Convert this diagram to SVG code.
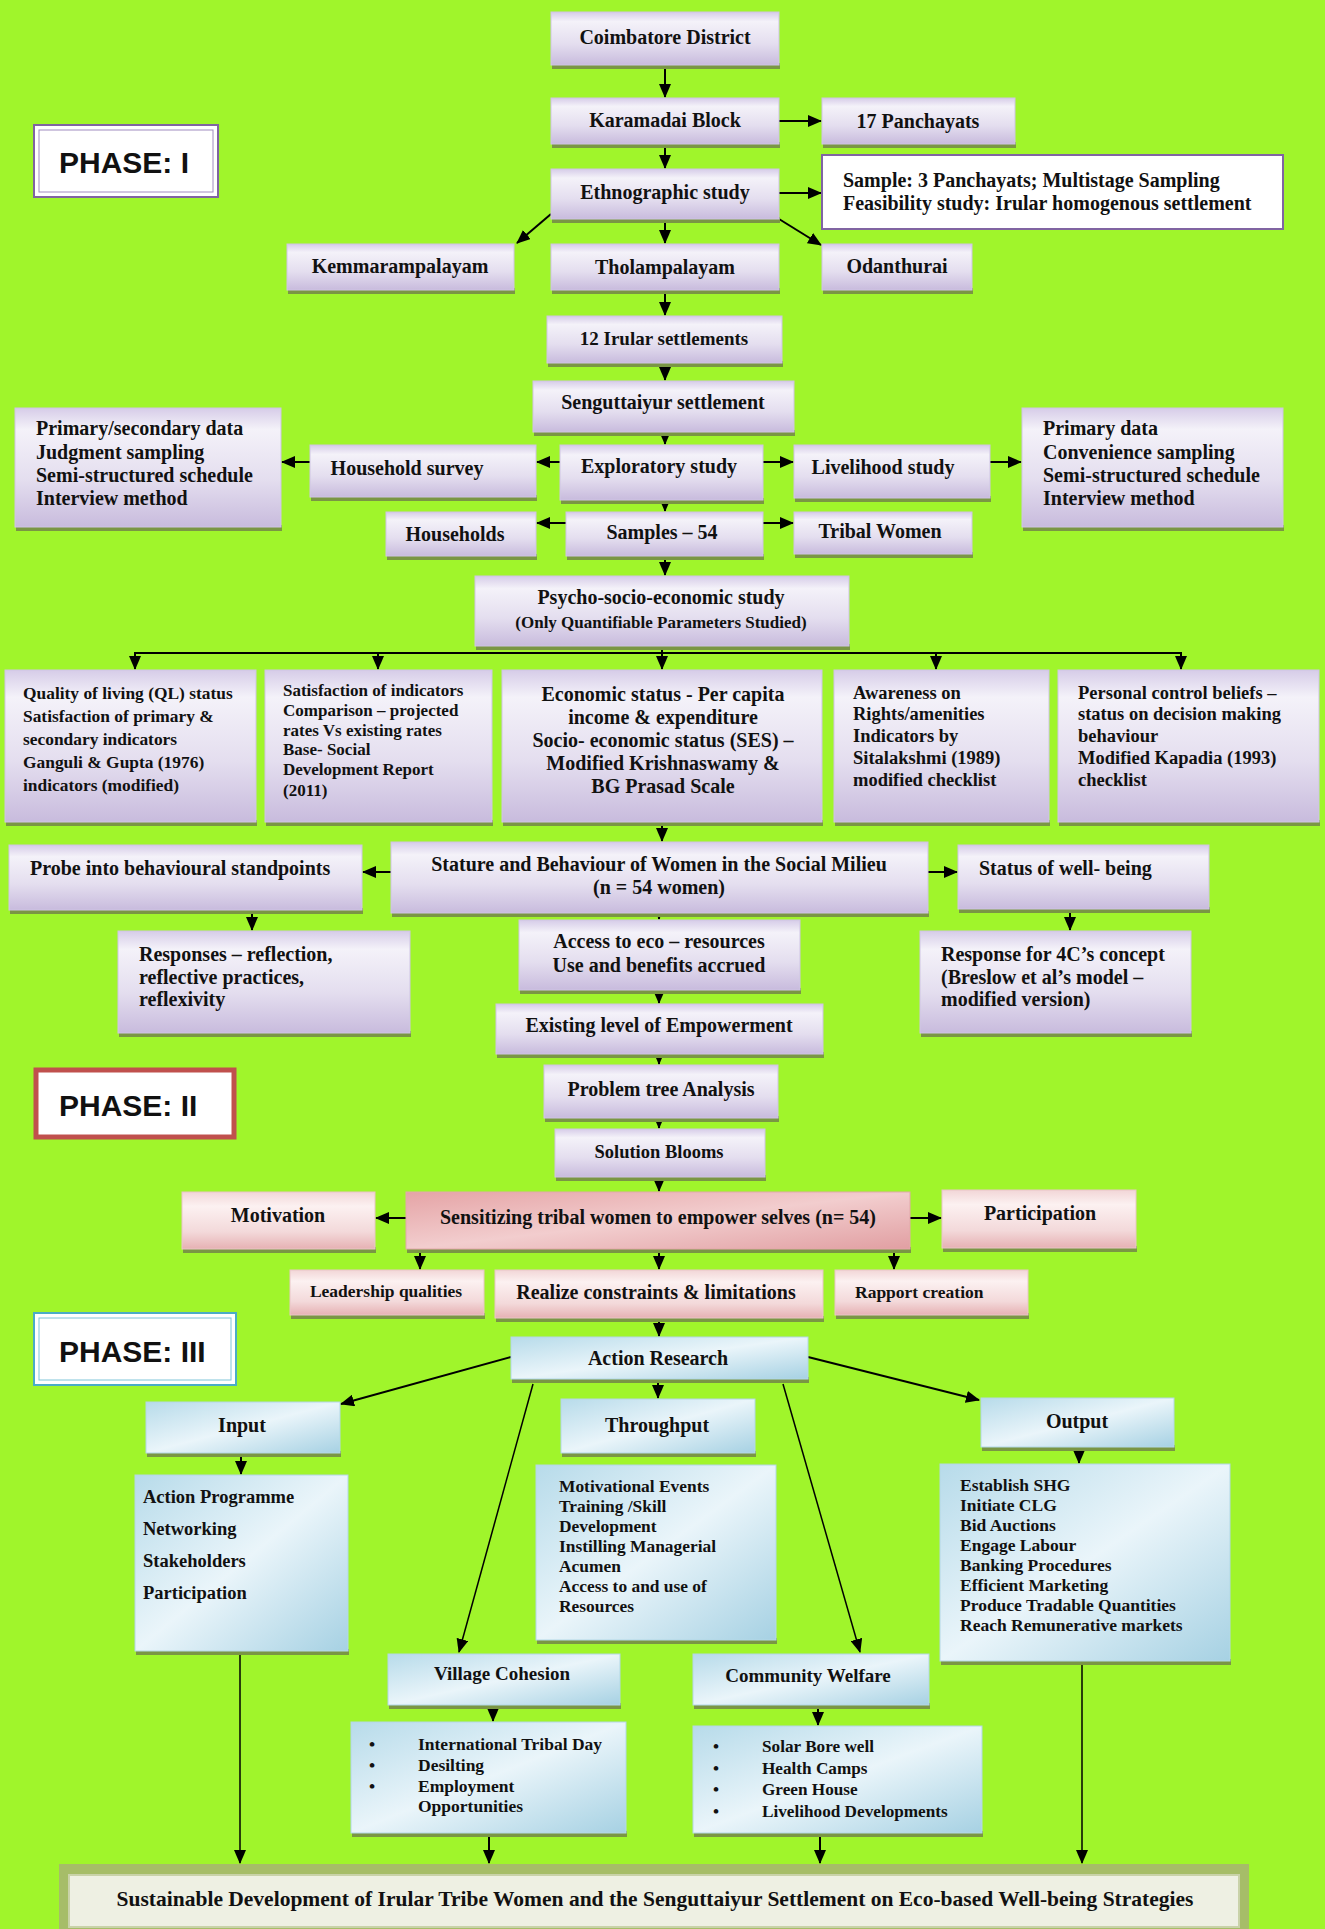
<svg xmlns="http://www.w3.org/2000/svg" width="1325" height="1929" viewBox="0 0 1325 1929">
<defs>
<linearGradient id="gLav" x1="0" y1="0" x2="0" y2="1">
<stop offset="0" stop-color="#D6CCE8"/><stop offset="0.18" stop-color="#F4F2F9"/><stop offset="0.6" stop-color="#E4DEEF"/><stop offset="1" stop-color="#C8BBDD"/>
</linearGradient>
<linearGradient id="gPink" x1="0" y1="0" x2="0" y2="1">
<stop offset="0" stop-color="#F2D6D7"/><stop offset="0.25" stop-color="#FCF1F1"/><stop offset="0.7" stop-color="#F3D9DA"/><stop offset="1" stop-color="#E6B1B3"/>
</linearGradient>
<linearGradient id="gPink2" x1="0" y1="0" x2="1" y2="1">
<stop offset="0" stop-color="#E5A4A6"/><stop offset="0.5" stop-color="#F2CDCE"/><stop offset="1" stop-color="#E19FA2"/>
</linearGradient>
<linearGradient id="gBlue" x1="0" y1="0" x2="1" y2="1">
<stop offset="0" stop-color="#B7DBEA"/><stop offset="0.5" stop-color="#EAF5FA"/><stop offset="1" stop-color="#A6D1E3"/>
</linearGradient>
<marker id="ar" markerUnits="userSpaceOnUse" markerWidth="14" markerHeight="12" refX="13" refY="6" orient="auto">
<path d="M0,0 L14,6 L0,12 z" fill="#000"/>
</marker>
<style>
.sh{fill:#7A9644;}
.lav{fill:url(#gLav);stroke:#CFC5E4;stroke-width:1;}
.pink{fill:url(#gPink);stroke:#E9C6C7;stroke-width:1;}
.pink2{fill:url(#gPink2);stroke:#E2A9AB;stroke-width:1;}
.blue{fill:url(#gBlue);stroke:#B3D8E6;stroke-width:1;}
text{font-family:"Liberation Serif","Times New Roman",serif;font-weight:bold;fill:#111;}
.c{text-anchor:middle;}
.ph{font-family:"Liberation Sans",Arial,sans-serif;font-size:30px;}
.cn line{stroke:#000;stroke-width:2;fill:none;}
.cn .thin{stroke-width:1.5;}
</style>
</defs>
<rect x="0" y="0" width="1325" height="1929" fill="#A0F52B"/>

<g id="connectors" class="cn">
<line x1="665" y1="65" x2="665" y2="97" marker-end="url(#ar)"/>
<line x1="779" y1="121" x2="821" y2="121" marker-end="url(#ar)"/>
<line x1="665" y1="144" x2="665" y2="168" marker-end="url(#ar)"/>
<line x1="779" y1="193" x2="821" y2="193" marker-end="url(#ar)"/>
<line x1="551" y1="214" x2="517" y2="243" marker-end="url(#ar)"/>
<line x1="665" y1="219" x2="665" y2="243" marker-end="url(#ar)"/>
<line x1="779" y1="219" x2="821" y2="245" marker-end="url(#ar)"/>
<line x1="665" y1="290" x2="665" y2="315" marker-end="url(#ar)"/>
<line x1="665" y1="363" x2="665" y2="380" marker-end="url(#ar)"/>
<line x1="665" y1="422" x2="665" y2="444" marker-end="url(#ar)"/>
<line x1="560" y1="462" x2="537" y2="462" marker-end="url(#ar)"/>
<line x1="310" y1="462" x2="282" y2="462" marker-end="url(#ar)"/>
<line x1="763" y1="462" x2="793" y2="462" marker-end="url(#ar)"/>
<line x1="990" y1="462" x2="1021" y2="462" marker-end="url(#ar)"/>
<line x1="665" y1="500" x2="665" y2="511" marker-end="url(#ar)"/>
<line x1="566" y1="523" x2="537" y2="523" marker-end="url(#ar)"/>
<line x1="763" y1="523" x2="793" y2="523" marker-end="url(#ar)"/>
<line x1="665" y1="556" x2="665" y2="575" marker-end="url(#ar)"/>
<line x1="662" y1="646" x2="662" y2="653"/>
<line x1="134" y1="653" x2="1182" y2="653"/>
<line x1="135" y1="653" x2="135" y2="669" marker-end="url(#ar)"/>
<line x1="378" y1="653" x2="378" y2="669" marker-end="url(#ar)"/>
<line x1="662" y1="653" x2="662" y2="669" marker-end="url(#ar)"/>
<line x1="936" y1="653" x2="936" y2="669" marker-end="url(#ar)"/>
<line x1="1181" y1="653" x2="1181" y2="669" marker-end="url(#ar)"/>
<line x1="662" y1="822" x2="662" y2="841" marker-end="url(#ar)"/>
<line x1="391" y1="872" x2="363" y2="872" marker-end="url(#ar)"/>
<line x1="928" y1="872" x2="957" y2="872" marker-end="url(#ar)"/>
<line x1="252" y1="910" x2="252" y2="930" marker-end="url(#ar)"/>
<line x1="659" y1="905" x2="659" y2="919" marker-end="url(#ar)"/>
<line x1="659" y1="990" x2="659" y2="1003" marker-end="url(#ar)"/>
<line x1="1070" y1="909" x2="1070" y2="930" marker-end="url(#ar)"/>
<line x1="659" y1="1054" x2="659" y2="1064" marker-end="url(#ar)"/>
<line x1="659" y1="1118" x2="659" y2="1128" marker-end="url(#ar)"/>
<line x1="659" y1="1177" x2="659" y2="1191" marker-end="url(#ar)"/>
<line x1="406" y1="1218" x2="376" y2="1218" marker-end="url(#ar)"/>
<line x1="910" y1="1218" x2="941" y2="1218" marker-end="url(#ar)"/>
<line x1="420" y1="1249" x2="420" y2="1269" marker-end="url(#ar)"/>
<line x1="659" y1="1249" x2="659" y2="1269" marker-end="url(#ar)"/>
<line x1="894" y1="1249" x2="894" y2="1269" marker-end="url(#ar)"/>
<line x1="659" y1="1318" x2="659" y2="1336" marker-end="url(#ar)"/>
<line x1="511" y1="1357" x2="341" y2="1404" marker-end="url(#ar)"/>
<line x1="808" y1="1357" x2="979" y2="1400" marker-end="url(#ar)"/>
<line x1="658" y1="1379" x2="658" y2="1398" marker-end="url(#ar)"/>
<line class="thin" x1="533" y1="1384" x2="459" y2="1652" marker-end="url(#ar)"/>
<line class="thin" x1="783" y1="1384" x2="860" y2="1652" marker-end="url(#ar)"/>
<line x1="241" y1="1453" x2="241" y2="1474" marker-end="url(#ar)"/>
<line x1="1079" y1="1447" x2="1079" y2="1463" marker-end="url(#ar)"/>
<line x1="493" y1="1705" x2="493" y2="1721" marker-end="url(#ar)"/>
<line x1="818" y1="1705" x2="818" y2="1725" marker-end="url(#ar)"/>
<line class="thin" x1="240" y1="1651" x2="240" y2="1863" marker-end="url(#ar)"/>
<line x1="489" y1="1833" x2="489" y2="1863" marker-end="url(#ar)"/>
<line x1="820" y1="1833" x2="820" y2="1863" marker-end="url(#ar)"/>
<line class="thin" x1="1082" y1="1661" x2="1082" y2="1863" marker-end="url(#ar)"/>
</g>

<g id="phase1"><rect x="34" y="125" width="184" height="72" fill="#fff" stroke="#8064A2" stroke-width="2"/><rect x="39" y="130" width="174" height="62" fill="none" stroke="#A08CC0" stroke-width="1"/><text class="ph" x="59" y="173">PHASE: I</text></g>

<g id="coimbatore"><rect class="sh" x="552" y="63" width="228" height="6"/><rect class="lav" x="551" y="12" width="228" height="53"/><text class="c" x="665" y="44" font-size="20">Coimbatore District</text></g>
<g id="karamadai"><rect class="sh" x="552" y="142" width="228" height="6"/><rect class="lav" x="551" y="98" width="228" height="46"/><text class="c" x="665" y="127" font-size="20">Karamadai Block</text></g>
<g id="panchayats"><rect class="sh" x="823" y="142" width="193" height="6"/><rect class="lav" x="822" y="98" width="193" height="46"/><text class="c" x="918" y="128" font-size="20">17 Panchayats</text></g>
<g id="ethno"><rect class="sh" x="552" y="217" width="228" height="6"/><rect class="lav" x="551" y="169" width="228" height="50"/><text class="c" x="665" y="199" font-size="20">Ethnographic study</text></g>
<g id="sample"><rect x="822" y="155" width="461" height="74" fill="#fff" stroke="#8064A2" stroke-width="2"/><text x="843" y="187" font-size="20">Sample: 3 Panchayats; Multistage Sampling</text><text x="843" y="210" font-size="20">Feasibility study: Irular homogenous settlement</text></g>
<g id="kemm"><rect class="sh" x="288" y="288" width="227" height="6"/><rect class="lav" x="287" y="244" width="227" height="46"/><text class="c" x="400" y="273" font-size="20">Kemmarampalayam</text></g>
<g id="tholam"><rect class="sh" x="552" y="288" width="228" height="6"/><rect class="lav" x="551" y="244" width="228" height="46"/><text class="c" x="665" y="274" font-size="20">Tholampalayam</text></g>
<g id="odan"><rect class="sh" x="823" y="288" width="150" height="6"/><rect class="lav" x="822" y="244" width="150" height="46"/><text class="c" x="897" y="273" font-size="20">Odanthurai</text></g>
<g id="irular"><rect class="sh" x="548" y="361" width="235" height="6"/><rect class="lav" x="547" y="316" width="235" height="47"/><text class="c" x="664" y="345" font-size="19">12 Irular settlements</text></g>
<g id="seng"><rect class="sh" x="534" y="430" width="261" height="6"/><rect class="lav" x="533" y="381" width="261" height="51"/><text class="c" x="663" y="409" font-size="20">Senguttaiyur settlement</text></g>
<g id="prim1"><rect class="sh" x="16" y="525" width="266" height="6"/><rect class="lav" x="15" y="408" width="266" height="119"/><text font-size="20"><tspan x="36" y="435">Primary/secondary data</tspan><tspan x="36" y="459">Judgment sampling</tspan><tspan x="36" y="482">Semi-structured schedule</tspan><tspan x="36" y="505">Interview method</tspan></text></g>
<g id="household"><rect class="sh" x="311" y="495" width="226" height="6"/><rect class="lav" x="310" y="445" width="226" height="52"/><text class="c" x="407" y="475" font-size="20">Household survey</text></g>
<g id="explor"><rect class="sh" x="561" y="498" width="203" height="6"/><rect class="lav" x="560" y="445" width="203" height="55"/><text class="c" x="659" y="473" font-size="20">Exploratory study</text></g>
<g id="livelihood"><rect class="sh" x="795" y="496" width="196" height="6"/><rect class="lav" x="794" y="445" width="196" height="53"/><text class="c" x="883" y="474" font-size="20">Livelihood study</text></g>
<g id="prim2"><rect class="sh" x="1023" y="525" width="261" height="6"/><rect class="lav" x="1022" y="408" width="261" height="119"/><text font-size="20"><tspan x="1043" y="435">Primary data</tspan><tspan x="1043" y="459">Convenience sampling</tspan><tspan x="1043" y="482">Semi-structured schedule</tspan><tspan x="1043" y="505">Interview method</tspan></text></g>
<g id="households"><rect class="sh" x="387" y="554" width="150" height="6"/><rect class="lav" x="386" y="512" width="150" height="44"/><text class="c" x="455" y="541" font-size="20">Households</text></g>
<g id="samples"><rect class="sh" x="567" y="554" width="197" height="6"/><rect class="lav" x="566" y="512" width="197" height="44"/><text class="c" x="662" y="539" font-size="20">Samples – 54</text></g>
<g id="tribal"><rect class="sh" x="795" y="552" width="178" height="6"/><rect class="lav" x="794" y="512" width="178" height="42"/><text class="c" x="880" y="538" font-size="20">Tribal Women</text></g>
<g id="psycho"><rect class="sh" x="476" y="644" width="374" height="6"/><rect class="lav" x="475" y="576" width="374" height="70"/><text class="c" x="661" y="604" font-size="20">Psycho-socio-economic study</text><text class="c" x="661" y="628" font-size="17">(Only Quantifiable Parameters Studied)</text></g>

<g id="ql"><rect class="sh" x="6" y="820" width="251" height="6"/><rect class="lav" x="5" y="670" width="251" height="152"/><text font-size="17.4"><tspan x="23" y="699">Quality of living (QL) status</tspan><tspan x="23" y="722">Satisfaction of primary &amp;</tspan><tspan x="23" y="745">secondary indicators</tspan><tspan x="23" y="768">Ganguli &amp; Gupta (1976)</tspan><tspan x="23" y="791">indicators (modified)</tspan></text></g>
<g id="satisf"><rect class="sh" x="266" y="820" width="227" height="6"/><rect class="lav" x="265" y="670" width="227" height="152"/><text font-size="17"><tspan x="283" y="696">Satisfaction of indicators</tspan><tspan x="283" y="716">Comparison – projected</tspan><tspan x="283" y="736">rates Vs existing rates</tspan><tspan x="283" y="755">Base- Social</tspan><tspan x="283" y="775">Development Report</tspan><tspan x="283" y="796">(2011)</tspan></text></g>
<g id="economic"><rect class="sh" x="503" y="820" width="320" height="6"/><rect class="lav" x="502" y="670" width="320" height="152"/><text class="c" font-size="20"><tspan x="663" y="701">Economic status - Per capita</tspan><tspan x="663" y="724">income &amp; expenditure</tspan><tspan x="663" y="747">Socio- economic status (SES) –</tspan><tspan x="663" y="770">Modified Krishnaswamy &amp;</tspan><tspan x="663" y="793">BG Prasad Scale</tspan></text></g>
<g id="awareness"><rect class="sh" x="835" y="820" width="215" height="6"/><rect class="lav" x="834" y="670" width="215" height="152"/><text font-size="18.5"><tspan x="853" y="699">Awareness on</tspan><tspan x="853" y="720">Rights/amenities</tspan><tspan x="853" y="742">Indicators by</tspan><tspan x="853" y="764">Sitalakshmi (1989)</tspan><tspan x="853" y="786">modified checklist</tspan></text></g>
<g id="personal"><rect class="sh" x="1059" y="820" width="261" height="6"/><rect class="lav" x="1058" y="670" width="261" height="152"/><text font-size="18.5"><tspan x="1078" y="699">Personal control beliefs –</tspan><tspan x="1078" y="720">status on decision making</tspan><tspan x="1078" y="742">behaviour</tspan><tspan x="1078" y="764">Modified Kapadia (1993)</tspan><tspan x="1078" y="786">checklist</tspan></text></g>

<g id="probe"><rect class="sh" x="10" y="908" width="353" height="6"/><rect class="lav" x="9" y="845" width="353" height="65"/><text x="30" y="875" font-size="20">Probe into behavioural standpoints</text></g>
<g id="stature"><rect class="sh" x="392" y="911" width="537" height="6"/><rect class="lav" x="391" y="842" width="537" height="71"/><text class="c" x="659" y="871" font-size="20">Stature and Behaviour of Women in the Social Milieu</text><text class="c" x="659" y="894" font-size="20">(n = 54 women)</text></g>
<g id="wellbeing"><rect class="sh" x="959" y="907" width="251" height="6"/><rect class="lav" x="958" y="845" width="251" height="64"/><text x="979" y="875" font-size="20">Status of well- being</text></g>
<g id="responses"><rect class="sh" x="119" y="1031" width="292" height="6"/><rect class="lav" x="118" y="931" width="292" height="102"/><text font-size="20"><tspan x="139" y="961">Responses – reflection,</tspan><tspan x="139" y="984">reflective practices,</tspan><tspan x="139" y="1006">reflexivity</tspan></text></g>
<g id="access"><rect class="sh" x="520" y="988" width="281" height="6"/><rect class="lav" x="519" y="920" width="281" height="70"/><text class="c" font-size="20"><tspan x="659" y="948">Access to eco – resources</tspan><tspan x="659" y="972">Use and benefits accrued</tspan></text></g>
<g id="c4"><rect class="sh" x="921" y="1031" width="271" height="6"/><rect class="lav" x="920" y="931" width="271" height="102"/><text font-size="20"><tspan x="941" y="961">Response for 4C’s concept</tspan><tspan x="941" y="984">(Breslow et al’s model –</tspan><tspan x="941" y="1006">modified version)</tspan></text></g>
<g id="existing"><rect class="sh" x="497" y="1052" width="327" height="6"/><rect class="lav" x="496" y="1004" width="327" height="50"/><text class="c" x="659" y="1032" font-size="20">Existing level of Empowerment</text></g>

<g id="phase2"><rect x="36" y="1070" width="198" height="67" fill="#fff" stroke="#C0504D" stroke-width="5"/><text class="ph" x="59" y="1116">PHASE: II</text></g>
<g id="problem"><rect class="sh" x="545" y="1116" width="234" height="6"/><rect class="lav" x="544" y="1065" width="234" height="53"/><text class="c" x="661" y="1096" font-size="20">Problem tree Analysis</text></g>
<g id="solution"><rect class="sh" x="556" y="1175" width="210" height="6"/><rect class="lav" x="555" y="1129" width="210" height="48"/><text class="c" x="659" y="1158" font-size="18.5">Solution Blooms</text></g>
<g id="motivation"><rect class="sh" x="183" y="1247" width="193" height="6"/><rect class="pink" x="182" y="1192" width="193" height="57"/><text class="c" x="278" y="1222" font-size="20">Motivation</text></g>
<g id="sensitizing"><rect class="sh" x="407" y="1247" width="504" height="6"/><rect class="pink2" x="406" y="1192" width="504" height="57"/><text class="c" x="658" y="1224" font-size="20">Sensitizing tribal women to empower selves (n= 54)</text></g>
<g id="participation"><rect class="sh" x="943" y="1246" width="194" height="6"/><rect class="pink" x="942" y="1190" width="194" height="58"/><text class="c" x="1040" y="1220" font-size="20">Participation</text></g>
<g id="leadership"><rect class="sh" x="291" y="1313" width="194" height="6"/><rect class="pink" x="290" y="1270" width="194" height="45"/><text class="c" x="386" y="1297" font-size="17.5">Leadership qualities</text></g>
<g id="realize"><rect class="sh" x="496" y="1316" width="328" height="6"/><rect class="pink" x="495" y="1270" width="328" height="48"/><text class="c" x="656" y="1299" font-size="20">Realize constraints &amp; limitations</text></g>
<g id="rapport"><rect class="sh" x="836" y="1313" width="193" height="6"/><rect class="pink" x="835" y="1270" width="193" height="45"/><text x="855" y="1298" font-size="17.5">Rapport creation</text></g>

<g id="phase3"><rect x="34" y="1313" width="202" height="72" fill="#fff" stroke="#4BACC6" stroke-width="2"/><rect x="39" y="1318" width="192" height="62" fill="none" stroke="#7FC4D8" stroke-width="1"/><text class="ph" x="59" y="1362">PHASE: III</text></g>
<g id="action"><rect class="sh" x="512" y="1377" width="297" height="6"/><rect class="blue" x="511" y="1337" width="297" height="42"/><text class="c" x="658" y="1365" font-size="20">Action Research</text></g>
<g id="input"><rect class="sh" x="147" y="1451" width="194" height="6"/><rect class="blue" x="146" y="1402" width="194" height="51"/><text class="c" x="242" y="1432" font-size="20">Input</text></g>
<g id="throughput"><rect class="sh" x="562" y="1451" width="194" height="6"/><rect class="blue" x="561" y="1399" width="194" height="54"/><text class="c" x="657" y="1432" font-size="20">Throughput</text></g>
<g id="output"><rect class="sh" x="982" y="1445" width="193" height="6"/><rect class="blue" x="981" y="1398" width="193" height="49"/><text class="c" x="1077" y="1428" font-size="20">Output</text></g>
<g id="inlist"><rect class="sh" x="136" y="1649" width="213" height="6"/><rect class="blue" x="135" y="1475" width="213" height="176"/><text font-size="18.5"><tspan x="143" y="1503">Action Programme</tspan><tspan x="143" y="1535">Networking</tspan><tspan x="143" y="1567">Stakeholders</tspan><tspan x="143" y="1599">Participation</tspan></text></g>
<g id="thlist"><rect class="sh" x="537" y="1638" width="240" height="6"/><rect class="blue" x="536" y="1465" width="240" height="175"/><text font-size="17.4"><tspan x="559" y="1492">Motivational Events</tspan><tspan x="559" y="1512">Training /Skill</tspan><tspan x="559" y="1532">Development</tspan><tspan x="559" y="1552">Instilling Managerial</tspan><tspan x="559" y="1572">Acumen</tspan><tspan x="559" y="1592">Access to and use of</tspan><tspan x="559" y="1612">Resources</tspan></text></g>
<g id="outlist"><rect class="sh" x="941" y="1659" width="290" height="6"/><rect class="blue" x="940" y="1464" width="290" height="197"/><text font-size="17.5"><tspan x="960" y="1491">Establish SHG</tspan><tspan x="960" y="1511">Initiate CLG</tspan><tspan x="960" y="1531">Bid Auctions</tspan><tspan x="960" y="1551">Engage Labour</tspan><tspan x="960" y="1571">Banking Procedures</tspan><tspan x="960" y="1591">Efficient Marketing</tspan><tspan x="960" y="1611">Produce Tradable Quantities</tspan><tspan x="960" y="1631">Reach Remunerative markets</tspan></text></g>
<g id="village"><rect class="sh" x="389" y="1703" width="232" height="6"/><rect class="blue" x="388" y="1654" width="232" height="51"/><text class="c" x="502" y="1680" font-size="19">Village Cohesion</text></g>
<g id="community"><rect class="sh" x="694" y="1703" width="236" height="6"/><rect class="blue" x="693" y="1654" width="236" height="51"/><text class="c" x="808" y="1682" font-size="19">Community Welfare</text></g>
<g id="vclist"><rect class="sh" x="352" y="1831" width="275" height="6"/><rect class="blue" x="351" y="1722" width="275" height="111"/><text font-size="17.5"><tspan x="369" y="1750">•</tspan><tspan x="418" y="1750">International Tribal Day</tspan><tspan x="369" y="1771">•</tspan><tspan x="418" y="1771">Desilting</tspan><tspan x="369" y="1792">•</tspan><tspan x="418" y="1792">Employment</tspan><tspan x="418" y="1812">Opportunities</tspan></text></g>
<g id="cwlist"><rect class="sh" x="694" y="1831" width="289" height="6"/><rect class="blue" x="693" y="1726" width="289" height="107"/><text font-size="17.2"><tspan x="713" y="1752">•</tspan><tspan x="762" y="1752">Solar Bore well</tspan><tspan x="713" y="1774">•</tspan><tspan x="762" y="1774">Health Camps</tspan><tspan x="713" y="1795">•</tspan><tspan x="762" y="1795">Green House</tspan><tspan x="713" y="1817">•</tspan><tspan x="762" y="1817">Livelihood Developments</tspan></text></g>

<g id="final"><rect x="59" y="1864" width="1190" height="65" fill="#A6BD68"/><rect x="69" y="1875" width="1170" height="52" fill="#EEF0E3" stroke="#C9D2A9" stroke-width="2"/><text class="c" x="655" y="1906" font-size="21.5">Sustainable Development of Irular Tribe Women and the Senguttaiyur Settlement on Eco-based Well-being Strategies</text></g>
</svg>
